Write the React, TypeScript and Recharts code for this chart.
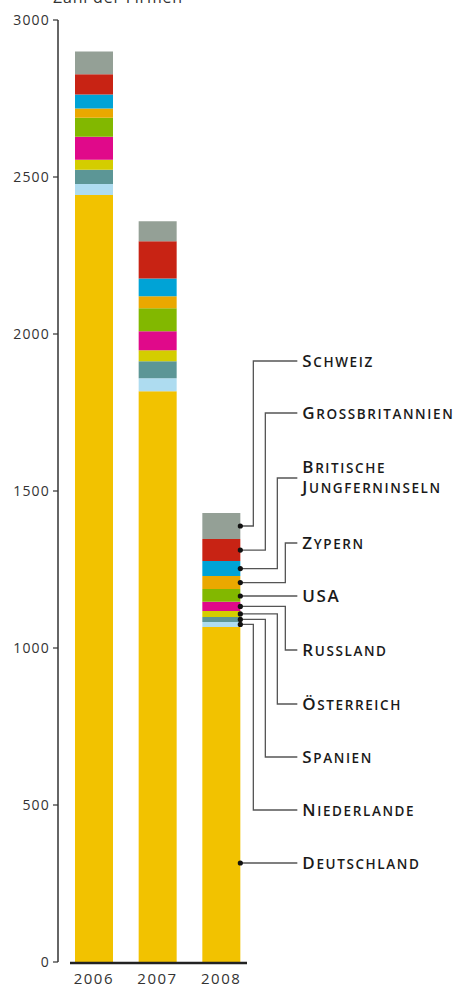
import { BarChart, Bar, XAxis, YAxis, LabelList, ReferenceLine } from "recharts";

// Firmen nach Herkunftsland, gestapelt je Jahr (unten Deutschland, oben Schweiz).
const years = ["2006", "2007", "2008"];

const deutschland = [2443, 1818, 1067];
const niederlande = [35, 41, 16];
const spanien = [45, 54, 16];
const oesterreich = [32, 35, 19];
const russland = [73, 61, 29];
const usa = [61, 73, 41];
const zypern = [29, 38, 41];
const jungferninseln = [45, 57, 48];
const grossbritannien = [64, 118, 70];
const schweiz = [73, 64, 83];

const yTicks = [0, 500, 1000, 1500, 2000, 2500, 3000];

const countries = [
  "Deutschland",
  "Niederlande",
  "Spanien",
  "Österreich",
  "Russland",
  "USA",
  "Zypern",
  "Britische Jungferninseln",
  "Grossbritannien",
  "Schweiz",
];
const seriesValues = [
  deutschland,
  niederlande,
  spanien,
  oesterreich,
  russland,
  usa,
  zypern,
  jungferninseln,
  grossbritannien,
  schweiz,
];

const colors = [
  "#f2c200",
  "#aedcf0",
  "#5c9696",
  "#d4cd00",
  "#e0098a",
  "#82b800",
  "#eaa800",
  "#00a3d6",
  "#c82314",
  "#94a096",
];

// leader layout (annotation only): y of the label line, elbow distance from bar edge
const LEADER_Y = [863, 810, 757, 704, 650, 596, 543, 478, 413, 361];
const ELBOW_DX = [0, 13, 25, 37, 45, 0, 45, 37, 25, 13];

const data = years.map((year, i) => {
  const row: Record<string, string | number> = { year };
  countries.forEach((c, s) => {
    row[c] = seriesValues[s][i];
  });
  return row;
});

const FONT = "'Open Sans', 'DejaVu Sans', sans-serif";

function CapsLabel({ x, y, text }: { x: number; y: number; text: string }) {
  const words = text.split(" ");
  const lineYs = words.length > 1 ? [y - 5, y + 15] : [y + 6];
  return (
    <g>
      {words.map((w, k) => {
        // acronyms (USA) stay full-size caps, other words get small caps
        const allCaps = w === w.toUpperCase();
        return (
          <text
            key={k}
            x={x}
            y={lineYs[k]}
            fontFamily={FONT}
            fontWeight={600}
            letterSpacing={1.6}
            fill="#1a1a1a"
          >
            {allCaps ? (
              <tspan fontSize={17}>{w}</tspan>
            ) : (
              <>
                <tspan fontSize={17}>{w[0]}</tspan>
                <tspan fontSize={13.5}>{w.slice(1).toUpperCase()}</tspan>
              </>
            )}
          </text>
        );
      })}
    </g>
  );
}

function makeLeader(si: number) {
  return (props: any) => {
    if (props.index !== 2) return null;
    const vb = props.viewBox ?? props;
    const bx = Number(vb.x) + Number(vb.width);
    const t = Math.min(Number(vb.y), Number(vb.y) + Number(vb.height));
    const b = Math.max(Number(vb.y), Number(vb.y) + Number(vb.height));
    const ly = LEADER_Y[si];
    const straight = ly >= t && ly <= b;
    const dy = straight ? ly : (t + b) / 2;
    const ex = bx + ELBOW_DX[si];
    const endX = bx + 57;
    const pts = straight
      ? `${bx},${dy} ${endX},${ly}`
      : `${bx},${dy} ${ex},${dy} ${ex},${ly} ${endX},${ly}`;
    return (
      <g>
        <polyline points={pts} fill="none" stroke="#555" strokeWidth={1.3} />
        <circle cx={bx} cy={dy} r={2.6} fill="#111" />
        <CapsLabel x={bx + 62} y={ly} text={countries[si]} />
      </g>
    );
  };
}

export default function App() {
  return (
    <div style={{ position: "absolute", left: 0, top: 0, width: 454, height: 988, background: "#fff" }}>
      <BarChart
        width={454}
        height={988}
        data={data}
        margin={{ top: 20, right: 201, bottom: 0, left: 0 }}
        barSize={38}
      >
        <XAxis
          dataKey="year"
          padding={{ left: 4, right: 0 }}
          axisLine={false}
          tickLine={false}
          tickSize={0}
          tickMargin={11}
          height={26}
          tick={{ fontSize: 15, fill: "#333", fontFamily: FONT, letterSpacing: 1.5 }}
        />
        <YAxis
          domain={[0, 3000]}
          ticks={yTicks}
          width={58}
          tickSize={5}
          tickMargin={3}
          axisLine={{ stroke: "#333", strokeWidth: 1.5 }}
          tickLine={{ stroke: "#333", strokeWidth: 1.2 }}
          tick={{ fontSize: 14, fill: "#333", fontFamily: FONT, letterSpacing: 1.2 }}
          label={{
            content: () => (
              <text x={53} y={3} fontSize={16} fontFamily={FONT} fill="#333" letterSpacing={0.8}>
                Zahl der Firmen
              </text>
            ),
          }}
        />
        {countries.map((c, si) => (
          <Bar key={c} dataKey={c} stackId="a" fill={colors[si]} isAnimationActive={false}>
            <LabelList dataKey={c} content={makeLeader(si)} />
          </Bar>
        ))}
        <ReferenceLine
          y={0}
          shape={(p: any) => (
            <line x1={p.x1 + 12} y1={p.y1 + 1} x2={p.x2 - 6} y2={p.y2 + 1} stroke="#222" strokeWidth={2.6} />
          )}
        />
      </BarChart>
    </div>
  );
}
